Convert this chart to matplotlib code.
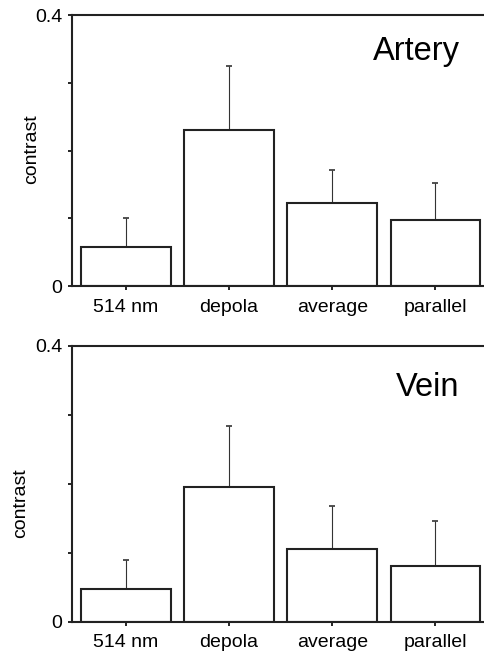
import matplotlib
matplotlib.use("Agg")
import matplotlib.pyplot as plt
import numpy as np

plt.rcParams['font.family'] = ['Liberation Sans', 'DejaVu Sans']

categories = ["514 nm", "depola", "average", "parallel"]
artery_values = [0.058, 0.230, 0.122, 0.098]
artery_err = [0.042, 0.094, 0.049, 0.054]
vein_values = [0.047, 0.195, 0.106, 0.081]
vein_err = [0.043, 0.089, 0.062, 0.065]
yticks = [0, 0.1, 0.2, 0.3, 0.4]
yticklabels = ["0", "", "", "", "0.4"]

fig = plt.figure(figsize=(4.84, 6.58), dpi=100)
ax1 = fig.add_axes([0.1488, 0.5653, 0.8512, 0.4119])
ax2 = fig.add_axes([0.1488, 0.0552, 0.8512, 0.4190])

x = np.arange(len(categories))

def draw(ax, vals, errs, title, tx, ty, lx, ly):
    ax.bar(x, vals, width=0.87, facecolor='white', edgecolor='#222222', linewidth=1.5, zorder=2)
    ax.errorbar(x, vals, yerr=[np.zeros(len(vals)), errs], fmt='none',
                ecolor='#333333', elinewidth=0.8, capsize=2, capthick=1.2, zorder=1)
    ax.set_xlim(-0.52, 3.47)
    ax.set_ylim(0, 0.4)
    ax.set_yticks(yticks)
    ax.set_yticklabels(yticklabels, fontsize=14)
    ax.set_xticks(x)
    ax.set_xticklabels(categories, fontsize=14)
    ax.tick_params(axis='y', direction='out', length=3, width=1.2, pad=4)
    ax.tick_params(axis='x', direction='out', length=3, width=1.2, pad=6)
    for s in ['left', 'top', 'bottom']:
        ax.spines[s].set_linewidth(1.5)
        ax.spines[s].set_color('#222222')
    ax.spines['right'].set_visible(False)
    ax.set_ylabel("contrast", fontsize=14)
    ax.yaxis.set_label_coords(lx, ly)
    ax.text(tx, ty, title, fontsize=23.5, ha='center', va='center', transform=ax.transAxes)

draw(ax1, artery_values, artery_err, "Artery", 0.837, 0.865, -0.078, 0.505)
draw(ax2, vein_values, vein_err, "Vein", 0.863, 0.85, -0.104, 0.43)

fig.savefig("out.png", dpi=100)
